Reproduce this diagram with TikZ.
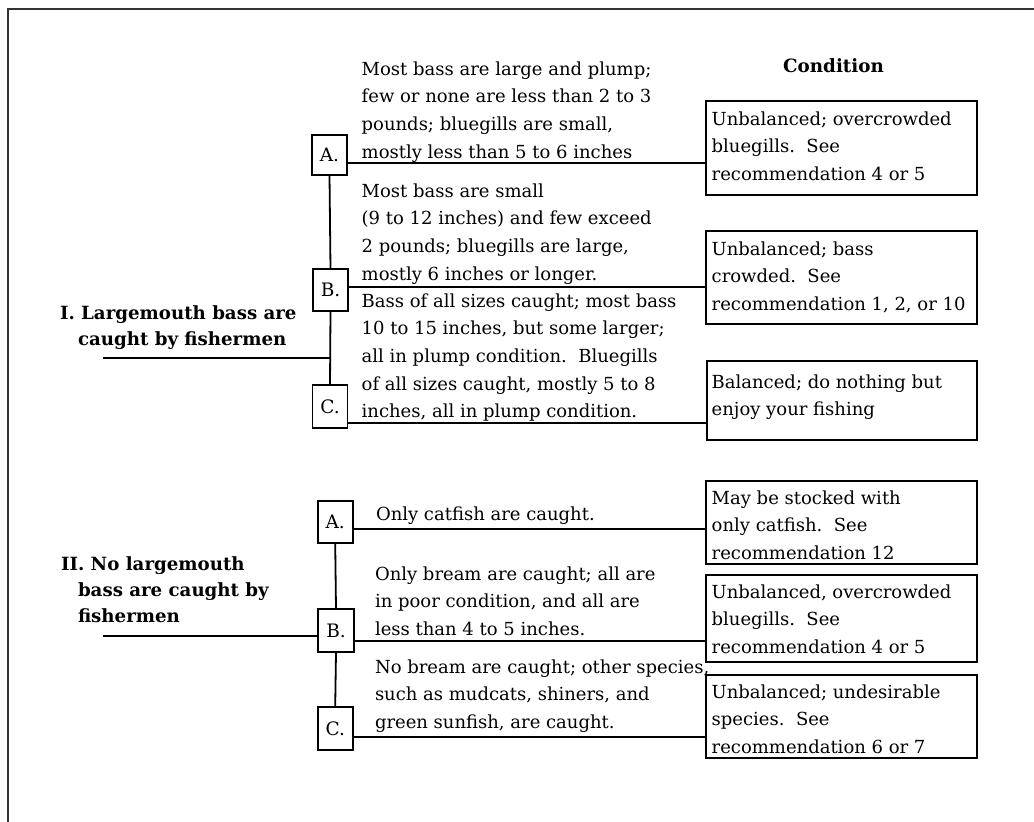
\documentclass[tikz,border=0pt]{standalone}
\usepackage{fontspec}
\setmainfont{DejaVu Serif}
\usetikzlibrary{calc}
\newcommand\lns[1]{\parbox[t]{420pt}{\raggedright #1}}
\begin{document}
\begin{tikzpicture}[x=1pt,y=-1pt,
  every node/.style={inner sep=0pt, outer sep=0pt},
  txt/.style={anchor=base west, font=\fontsize{18pt}{27.7pt}\selectfont},
  lbl/.style={anchor=base west, font=\fontsize{18.2pt}{26pt}\selectfont\bfseries},
  letterbox/.style={draw, line width=1.8pt, minimum width=35pt, font=\fontsize{18.5pt}{20pt}\selectfont},
  condbox/.style={draw, line width=1.8pt},
  link/.style={line width=1.8pt},
  frame/.style={line width=2pt, draw=black!80}]
\useasboundingbox (0,0) rectangle (1034,822);
% frame
\draw[frame] (8,822) -- (8,9) -- (1034,9);
% heading
\node[anchor=base, font=\fontsize{18.3pt}{20pt}\selectfont\bfseries] (cond) at (833.5,72) {Condition};
% condition boxes
\node[condbox, minimum width=271pt, minimum height=94.3pt] (c1) at (841.5,147.85) {};
\node[condbox, minimum width=271pt, minimum height=93.3pt] (c2) at (841.5,277.35) {};
\node[condbox, minimum width=270pt, minimum height=79.3pt] (c3) at (842,400.35) {};
\node[condbox, minimum width=271pt, minimum height=83pt] (c4) at (841.5,522.5) {};
\node[condbox, minimum width=271pt, minimum height=86.7pt] (c5) at (841.5,618.35) {};
\node[condbox, minimum width=271pt, minimum height=83pt] (c6) at (841.5,716.5) {};
\node[txt] (c1t) at (711.7,125) {\lns{Unbalanced; overcrowded\\bluegills.~~See\\recommendation 4 or 5}};
\node[txt] (c2t) at (711.7,255) {\lns{Unbalanced; bass\\crowded.~~See\\recommendation 1, 2, or 10}};
\node[txt] (c3t) at (711.7,388) {\lns{Balanced; do nothing but\\enjoy your fishing}};
\node[txt] (c4t) at (711.7,504) {\lns{May be stocked with\\only catfish.~~See\\recommendation 12}};
\node[txt] (c5t) at (711.7,598) {\lns{Unbalanced, overcrowded\\bluegills.~~See\\recommendation 4 or 5}};
\node[txt] (c6t) at (711.7,698) {\lns{Unbalanced; undesirable\\species.~~See\\recommendation 6 or 7}};
% section I
\node[lbl] (Ilab) at (60,319) {\lns{I. Largemouth bass are\\\hspace*{18pt}caught by fishermen}};
\node[letterbox, minimum height=40pt] (IA) at (329.5,155) {A.};
\node[letterbox, minimum height=42pt] (IB) at (330.5,290) {B.};
\node[letterbox, minimum height=43pt] (IC) at (330,406.5) {C.};
\coordinate (Istart) at (103,358);
\draw[link] (IA.south) -- (IB.north);
\draw[link] (IB.south) -- (IC.north);
\draw[link] (Istart) -- (Istart -| IB.south);
\draw[link] ([yshift=-7.7pt]IA.east) -- ([yshift=-7.7pt]IA.east -| c1.west);
\draw[link] ([yshift=3pt]IB.east) -- ([yshift=3pt]IB.east -| c2.west);
\draw[link] ([yshift=-16.2pt]IC.east) -- ([yshift=-16.2pt]IC.east -| c3.west);
\node[txt] (IAt) at (361.7,75) {\lns{Most bass are large and plump;\\few or none are less than 2 to 3\\pounds; bluegills are small,\\mostly less than 5 to 6 inches}};
\node[txt] (IBt) at (361.7,197) {\lns{Most bass are small\\(9 to 12 inches) and few exceed\\2 pounds; bluegills are large,\\mostly 6 inches or longer.}};
\node[txt] (ICt) at (361.7,307) {\lns{Bass of all sizes caught; most bass\\10 to 15 inches, but some larger;\\all in plump condition.~~Bluegills\\of all sizes caught, mostly 5 to 8\\inches, all in plump condition.}};
% section II
\node[lbl] (IIlab) at (61,570) {\lns{II. No largemouth\\\hspace*{17pt}bass are caught by\\\hspace*{17pt}fishermen}};
\node[letterbox, minimum height=42pt] (IIA) at (335.2,522) {A.};
\node[letterbox, minimum height=43pt, minimum width=36pt] (IIB) at (336,630.5) {B.};
\node[letterbox, minimum height=43pt] (IIC) at (335.2,728.3) {C.};
\coordinate (IIstart) at (103,636);
\draw[link] (IIA.south) -- (IIB.north);
\draw[link] (IIB.south) -- (IIC.north);
\draw[link] (IIstart) -- (IIstart -| IIB.west);
\draw[link] ([yshift=-7pt]IIA.east) -- ([yshift=-7pt]IIA.east -| c4.west);
\draw[link] ([yshift=-10.5pt]IIB.east) -- ([yshift=-10.5pt]IIB.east -| c5.west);
\draw[link] ([yshift=-9pt]IIC.east) -- ([yshift=-9pt]IIC.east -| c6.west);
\node[txt] (IIAt) at (376,520) {Only catfish are caught.};
\node[txt] (IIBt) at (375,580) {\lns{Only bream are caught; all are\\in poor condition, and all are\\less than 4 to 5 inches.}};
\node[txt] (IICt) at (375,673) {\lns{No bream are caught; other species,\\such as mudcats, shiners, and\\green sunfish, are caught.}};
\end{tikzpicture}
\end{document}
